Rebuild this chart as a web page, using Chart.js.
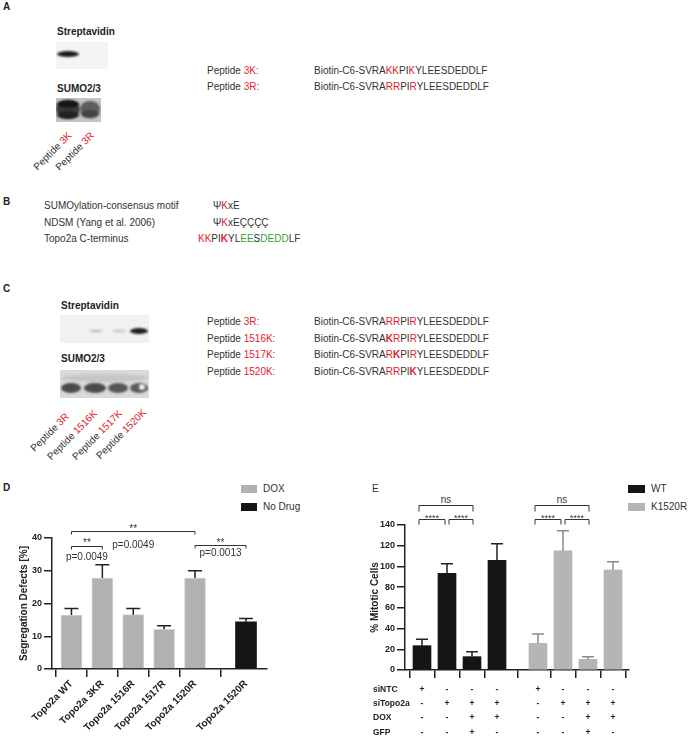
<!DOCTYPE html>
<html>
<head>
<meta charset="utf-8">
<script src="https://cdn.jsdelivr.net/npm/chart.js@4.4.0/dist/chart.umd.min.js"></script>
<style>
  body { margin:0; background:#fff; width:689px; height:740px; position:relative; overflow:hidden;
         font-family:"Liberation Sans", Arial, sans-serif; color:#333; }
  .t { position:absolute; font-size:10px; line-height:12px; white-space:nowrap; }
  .b { font-weight:bold; color:#222; }
  .r { color:#e3202b; }
  .g { color:#3a9e3a; }
  .rk { color:#e3202b; font-weight:bold; }
  .rot { position:absolute; font-size:10px; line-height:12px; white-space:nowrap;
         transform-origin:100% 50%; transform:rotate(-45deg); }
  canvas { position:absolute; }
  .key { position:absolute; width:16px; height:8px; }
</style>
</head>
<body>

<!-- Panel A -->
<div class="t b" style="left:3px;top:1px">A</div>
<div class="t b" style="left:57px;top:26px">Streptavidin</div>
<canvas id="blotA1" width="52" height="27" style="left:56px;top:42px"></canvas>
<div class="t b" style="left:57px;top:83px">SUMO2/3</div>
<canvas id="blotA2" width="45" height="24" style="left:56px;top:98px"></canvas>
<div class="rot" style="right:619px;top:128px">Peptide <span class="r">3K</span></div>
<div class="rot" style="right:597px;top:128px">Peptide <span class="r">3R</span></div>
<div class="t" style="left:207px;top:65px">Peptide <span class="r">3K:</span></div>
<div class="t" style="left:314px;top:65px">Biotin-C6-SVRA<span class="r">KK</span>PI<span class="r">K</span>YLEESDEDDLF</div>
<div class="t" style="left:207px;top:81px">Peptide <span class="r">3R:</span></div>
<div class="t" style="left:314px;top:81px">Biotin-C6-SVRA<span class="r">RR</span>PI<span class="r">R</span>YLEESDEDDLF</div>

<!-- Panel B -->
<div class="t b" style="left:3px;top:196px">B</div>
<div class="t" style="left:44px;top:200px">SUMOylation-consensus motif</div>
<div class="t" style="left:213px;top:200px">Ψ<span class="r">K</span>xE</div>
<div class="t" style="left:44px;top:217px">NDSM (Yang et al. 2006)</div>
<div class="t" style="left:213px;top:217px">Ψ<span class="r">K</span>xEÇÇÇÇ</div>
<div class="t" style="left:44px;top:233px">Topo2a C-terminus</div>
<div class="t" style="left:198px;top:233px"><span class="r">KK</span>PI<span class="rk">K</span>YL<span class="g">EE</span>S<span class="g">DEDD</span>LF</div>

<!-- Panel C -->
<div class="t b" style="left:3px;top:283px">C</div>
<div class="t b" style="left:61px;top:300px">Streptavidin</div>
<canvas id="blotC1" width="89" height="28" style="left:60px;top:315px"></canvas>
<div class="t b" style="left:61px;top:353px">SUMO2/3</div>
<canvas id="blotC2" width="89" height="28" style="left:60px;top:370px"></canvas>
<div class="rot" style="right:622px;top:409px">Peptide <span class="r">3R</span></div>
<div class="rot" style="right:593px;top:406px">Peptide <span class="r">1516K</span></div>
<div class="rot" style="right:568px;top:406px">Peptide <span class="r">1517K</span></div>
<div class="rot" style="right:544px;top:405px">Peptide <span class="r">1520K</span></div>
<div class="t" style="left:207px;top:316px">Peptide <span class="r">3R:</span></div>
<div class="t" style="left:314px;top:316px">Biotin-C6-SVRA<span class="r">RR</span>PI<span class="r">R</span>YLEESDEDDLF</div>
<div class="t" style="left:207px;top:333px">Peptide <span class="r">1516K:</span></div>
<div class="t" style="left:314px;top:333px">Biotin-C6-SVRA<span class="rk">K</span><span class="r">R</span>PI<span class="r">R</span>YLEESDEDDLF</div>
<div class="t" style="left:207px;top:349px">Peptide <span class="r">1517K:</span></div>
<div class="t" style="left:314px;top:349px">Biotin-C6-SVRA<span class="r">R</span><span class="rk">K</span>PI<span class="r">R</span>YLEESDEDDLF</div>
<div class="t" style="left:207px;top:366px">Peptide <span class="r">1520K:</span></div>
<div class="t" style="left:314px;top:366px">Biotin-C6-SVRA<span class="r">RR</span>PI<span class="rk">K</span>YLEESDEDDLF</div>

<!-- Panel D -->
<div class="t b" style="left:3px;top:482px">D</div>
<div class="key" style="left:241px;top:485px;background:#b3b0b0"></div>
<div class="t" style="left:263px;top:483px">DOX</div>
<div class="key" style="left:241px;top:503px;background:#161513"></div>
<div class="t" style="left:263px;top:501px">No Drug</div>
<canvas id="chartD" width="345" height="260" style="left:0;top:480px"></canvas>

<!-- Panel E -->
<div class="t" style="left:372px;top:483px">E</div>
<div class="key" style="left:628px;top:485px;width:17px;background:#161513"></div>
<div class="t" style="left:651px;top:483px">WT</div>
<div class="key" style="left:628px;top:503px;width:17px;background:#b6b5b6"></div>
<div class="t" style="left:651px;top:501px">K1520R</div>
<canvas id="chartE" width="329" height="260" style="left:360px;top:480px"></canvas>

<script>
// ---------- DATA ----------
// D: segregation defects
const dLabels = ['Topo2a WT', 'Topo2a 3KR', 'Topo2a 1516R', 'Topo2a 1517R', 'Topo2a 1520R', 'Topo2a 1520R'];
const dDox = [16.5, 27.8, 16.6, 12.1, 27.8];
const dDoxErr = [2.0, 4.0, 1.9, 1.1, 2.2];
const dNoDrug = [14.4];
const dNoDrugErr = [1.0];
const dYTicks = [0, 10, 20, 30, 40];
const dPvals = ['p=0.0049', 'p=0.0049', 'p=0.0013'];

// E: mitotic cells
const eWT = [23.5, 93.3, 12.9, 106];
const eWTErr = [6.1, 9.3, 4.8, 16];
const eK1520R = [25.7, 115, 10.3, 96.5];
const eK1520RErr = [9.0, 19.5, 2.6, 8.0];
const eYTicks = [0, 20, 40, 60, 80, 100, 120, 140];
const eRowLabels = ['siNTC', 'siTopo2a', 'DOX', 'GFP'];
const eRows = [
  ['+', '-', '-', '-', '+', '-', '-', '-'],
  ['-', '+', '+', '+', '-', '+', '+', '+'],
  ['-', '-', '+', '+', '-', '-', '+', '+'],
  ['-', '-', '+', '-', '-', '-', '+', '-']
];

Chart.defaults.font.family = '"Liberation Sans", Arial, sans-serif';
Chart.defaults.color = '#222';

const INK = '#222';
const GRAY_D = '#b3b0b0';
const GRAY_E = '#b6b5b6';
const BLACK = '#161513';

// ---------- blots (just pictures) ----------
function blot(id, bg, bands) {
  const c = document.getElementById(id);
  const g = c.getContext('2d');
  g.fillStyle = bg;
  g.fillRect(0, 0, c.width, c.height);
  g.filter = 'blur(1.2px)';
  bands.forEach(b => {
    g.fillStyle = b[4];
    g.beginPath();
    g.ellipse(b[0], b[1], b[2], b[3], 0, 0, Math.PI * 2);
    g.fill();
  });
}
blot('blotA1', '#f4f4f4', [[12, 12, 11, 3, '#1c1c1c']]);
blot('blotA2', '#c4c4c4', [[12, 11, 12, 9, '#3a3a3a'], [12, 6, 11, 3.5, '#141414'], [12, 17, 11, 4, '#222'],
  [34, 11, 10, 8, '#5c5c5c'], [34, 16, 9, 4, '#444']]);
blot('blotC1', '#f1f1f1', [[36, 16, 6, 1.6, '#c4c4c4'], [59, 16, 7, 1.6, '#cacaca'], [79, 16, 9, 3, '#1e1e1e']]);
blot('blotC2', '#dadada', [[45, 8, 44, 4, '#c6c6c6'], [11, 18, 10, 5, '#4a4a4a'], [35, 18, 11, 5, '#4a4a4a'],
  [58, 18, 10, 5, '#565656'], [79, 18, 9, 5, '#5a5a5a'], [82, 17, 3, 3, '#f2f2f2']]);

// ---------- plugins ----------
const errorBars = {
  id: 'errorBars',
  afterDatasetsDraw(chart) {
    const { ctx, scales: { y } } = chart;
    chart.data.datasets.forEach((ds, di) => {
      const meta = chart.getDatasetMeta(di);
      ctx.save();
      ctx.strokeStyle = ds.errColor;
      ctx.lineWidth = 1.5;
      meta.data.forEach((bar, i) => {
        const top = y.getPixelForValue(ds.data[i].y + ds.err[i]);
        ctx.beginPath();
        ctx.moveTo(bar.x, bar.y);
        ctx.lineTo(bar.x, top);
        ctx.moveTo(bar.x - ds.cap / 2, top);
        ctx.lineTo(bar.x + ds.cap / 2, top);
        ctx.stroke();
      });
      ctx.restore();
    });
  }
};

const sig = {
  id: 'sig',
  afterDraw(chart, args, opts) {
    const { ctx, scales: { x, y } } = chart;
    ctx.save();
    ctx.strokeStyle = '#333';
    ctx.fillStyle = '#333';
    ctx.lineWidth = 1;
    ctx.textAlign = 'center';
    (opts.brackets || []).forEach(b => {
      const x1 = x.getPixelForValue(b.from) + (b.dl || 0);
      const x2 = x.getPixelForValue(b.to) + (b.dr || 0);
      const yy = Math.round(y.getPixelForValue(b.y)) + 0.5;
      ctx.beginPath();
      ctx.moveTo(x1, yy + b.leg);
      ctx.lineTo(x1, yy);
      ctx.lineTo(x2, yy);
      ctx.lineTo(x2, yy + b.leg);
      ctx.stroke();
      ctx.font = b.font;
      ctx.textBaseline = 'alphabetic';
      ctx.fillText(b.text, (x1 + x2) / 2, yy - b.lift);
    });
    (opts.texts || []).forEach(t => {
      ctx.font = '10px "Liberation Sans", Arial, sans-serif';
      ctx.textBaseline = 'middle';
      ctx.fillText(t.text, x.getPixelForValue(t.x), y.getPixelForValue(t.y));
    });
    (opts.table || []).forEach(row => {
      ctx.fillStyle = INK;
      ctx.font = 'bold 8.5px "Liberation Sans", Arial, sans-serif';
      ctx.textBaseline = 'middle';
      ctx.textAlign = 'left';
      ctx.fillText(row.label, opts.tableLeft, row.py);
      ctx.textAlign = 'center';
      row.cells.forEach((c, i) => ctx.fillText(c, x.getPixelForValue(row.slots[i]), row.py));
    });
    ctx.restore();
  }
};

// ---------- D ----------
const D_GAP = 1.65;
const dDoxSlots = dDox.map((v, i) => i);
const dNoDrugSlots = dNoDrug.map((v, i) => dDox.length - 1 + D_GAP + i);
const dSlots = dDoxSlots.concat(dNoDrugSlots);
const dStar = '10px "Liberation Sans", Arial';

function axisCommon() {
  return {
    grid: { drawOnChartArea: false, drawTicks: true, color: INK, lineWidth: 1.5 },
    border: { display: true, color: INK, width: 1.5 }
  };
}

new Chart(document.getElementById('chartD'), {
  type: 'bar',
  data: {
    datasets: [
      { label: 'DOX', data: dDox.map((v, i) => ({ x: dDoxSlots[i], y: v })), err: dDoxErr,
        backgroundColor: GRAY_D, borderColor: '#d2d0d0', borderWidth: 1, errColor: INK, cap: 14,
        barThickness: 21, grouped: false },
      { label: 'No Drug', data: dNoDrug.map((v, i) => ({ x: dNoDrugSlots[i], y: v })), err: dNoDrugErr,
        backgroundColor: BLACK, borderWidth: 0, errColor: INK, cap: 14,
        barThickness: 21, grouped: false }
    ]
  },
  options: {
    responsive: false, animation: false,
    layout: { padding: { left: 0, top: 58, right: 78, bottom: 0 } },
    plugins: {
      legend: { display: false }, tooltip: { enabled: false },
      sig: {
        brackets: [
          { from: dSlots[0], to: dSlots[4], y: 42.2, leg: 3, lift: 0, text: '**', font: dStar },
          { from: dSlots[0], to: dSlots[1], y: 37.6, leg: 3, lift: 1, text: '**', font: dStar },
          { from: dSlots[4], to: dSlots[5], y: 37.9, leg: 3, lift: 0, text: '**', font: dStar }
        ],
        texts: [
          { text: dPvals[0], x: (dSlots[0] + dSlots[1]) / 2, y: 34.0 },
          { text: dPvals[1], x: dSlots[2], y: 37.9 },
          { text: dPvals[2], x: (dSlots[4] + dSlots[5]) / 2, y: 35.2 }
        ]
      }
    },
    scales: {
      x: Object.assign(axisCommon(), {
        type: 'linear', min: -0.63, max: 6.33, offset: false,
        afterBuildTicks: s => { s.ticks = dSlots.map(v => ({ value: v })); },
        afterFit: s => { s.height = 71; },
        ticks: { autoSkip: false, minRotation: 45, maxRotation: 45, padding: 1,
                 font: { size: 10, weight: 'bold' }, color: INK,
                 callback: (v, i) => dLabels[i] }
      }),
      y: Object.assign(axisCommon(), {
        min: 0, max: 40,
        afterBuildTicks: s => { s.ticks = dYTicks.map(v => ({ value: v })); },
        afterFit: s => { s.width = 52; },
        ticks: { padding: 2, font: { size: 9, weight: 'bold' }, color: INK },
        title: { display: true, text: 'Segregation Defects [%]', color: INK,
                 font: { size: 10, weight: 'bold' }, padding: { top: 18 } }
      })
    }
  },
  plugins: [errorBars, sig]
});

// ---------- E ----------
const E_GAP = 1.64;
const eWTSlots = eWT.map((v, i) => i);
const eKSlots = eK1520R.map((v, i) => eWT.length - 1 + E_GAP + i);
const eSlots = eWTSlots.concat(eKSlots);
const starFont = '9px "Liberation Sans", Arial';
const nsFont = '10px "Liberation Sans", Arial';

new Chart(document.getElementById('chartE'), {
  type: 'bar',
  data: {
    datasets: [
      { label: 'WT', data: eWT.map((v, i) => ({ x: eWTSlots[i], y: v })), err: eWTErr,
        backgroundColor: BLACK, borderWidth: 0, errColor: INK, cap: 12,
        barThickness: 18, grouped: false },
      { label: 'K1520R', data: eK1520R.map((v, i) => ({ x: eKSlots[i], y: v })), err: eK1520RErr,
        backgroundColor: GRAY_E, borderWidth: 0, errColor: '#8a8a8a', cap: 12,
        barThickness: 18, grouped: false }
    ]
  },
  options: {
    responsive: false, animation: false,
    layout: { padding: { left: 0, top: 45, right: 60, bottom: 0 } },
    plugins: {
      legend: { display: false }, tooltip: { enabled: false },
      sig: {
        brackets: [
          { from: eSlots[0], to: eSlots[2], dl: -3, dr: 1, y: 159.3, leg: 6, lift: 2.5, text: 'ns', font: nsFont },
          { from: eSlots[0], to: eSlots[1], dl: -3, dr: -2, y: 145.8, leg: 5, lift: -1, text: '****', font: starFont },
          { from: eSlots[1], to: eSlots[2], dl: 2, dr: 1, y: 145.8, leg: 5, lift: -1, text: '****', font: starFont },
          { from: eSlots[4], to: eSlots[6], dl: -3, dr: 1, y: 159.3, leg: 6, lift: 2.5, text: 'ns', font: nsFont },
          { from: eSlots[4], to: eSlots[5], dl: -3, dr: -2, y: 145.8, leg: 5, lift: -1, text: '****', font: starFont },
          { from: eSlots[5], to: eSlots[6], dl: 2, dr: 1, y: 145.8, leg: 5, lift: -1, text: '****', font: starFont }
        ],
        tableLeft: 13,
        table: eRowLabels.map((lab, r) => ({ label: lab, cells: eRows[r], slots: eSlots, py: [210, 224, 238, 253][r] }))
      }
    },
    scales: {
      x: Object.assign(axisCommon(), {
        type: 'linear', min: -0.68, max: 8.28, offset: false,
        afterBuildTicks: s => { s.ticks = eSlots.map(v => ({ value: v })); },
        afterFit: s => { s.height = 70; },
        ticks: { display: false }
      }),
      y: Object.assign(axisCommon(), {
        min: 0, max: 140,
        afterBuildTicks: s => { s.ticks = eYTicks.map(v => ({ value: v })); },
        afterFit: s => { s.width = 45; },
        ticks: { padding: 2, font: { size: 9, weight: 'bold' }, color: INK },
        title: { display: true, text: '% Mitotic Cells', color: INK,
                 font: { size: 10, weight: 'bold' }, padding: { top: 9 } }
      })
    }
  },
  plugins: [errorBars, sig]
});
</script>
</body>
</html>
